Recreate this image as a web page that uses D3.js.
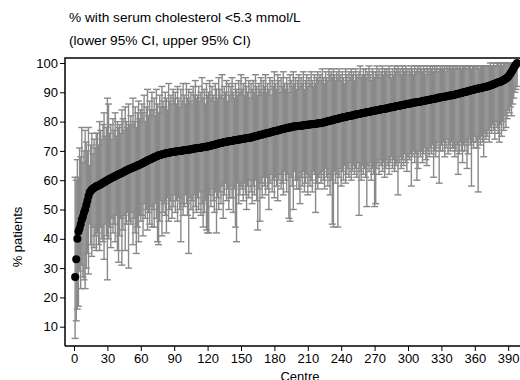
<!DOCTYPE html>
<html><head><meta charset="utf-8">
<script src="https://cdn.jsdelivr.net/npm/d3@7"></script>
<style>body{margin:0;background:#fff}svg{display:block;font-family:"Liberation Sans",Arial,sans-serif}</style>
</head><body><svg id="c" width="520" height="380"></svg>
<script>
// % with serum cholesterol <5.3 mmol/L, by centre (sorted)
const pct = [
27.0,33.0,40.0,42.5,43.5,45.0,46.5,47.5,49.0,50.0,
51.5,53.0,54.5,55.8,56.3,56.8,57.1,57.4,57.6,57.9,
58.0,58.2,58.4,58.6,58.8,59.1,59.3,59.5,59.8,60.0,
60.2,60.4,60.6,60.8,61.0,61.2,61.4,61.6,61.8,62.0,
62.1,62.3,62.5,62.7,62.9,63.1,63.3,63.5,63.7,63.8,
64.0,64.2,64.3,64.5,64.7,64.8,65.0,65.2,65.3,65.5,
65.7,65.9,66.1,66.3,66.5,66.7,66.9,67.1,67.2,67.4,
67.6,67.8,68.0,68.1,68.3,68.5,68.6,68.7,68.8,68.9,
69.0,69.1,69.2,69.3,69.4,69.4,69.5,69.6,69.6,69.7,
69.8,69.8,69.9,70.0,70.0,70.0,70.1,70.1,70.2,70.3,
70.3,70.4,70.4,70.5,70.6,70.6,70.7,70.8,70.8,70.9,
71.0,71.0,71.1,71.1,71.2,71.3,71.3,71.4,71.4,71.5,
71.6,71.7,71.8,71.9,72.0,72.1,72.2,72.3,72.4,72.5,
72.6,72.7,72.8,72.9,73.0,73.0,73.1,73.2,73.3,73.3,
73.4,73.5,73.5,73.6,73.7,73.7,73.8,73.9,73.9,74.0,
74.1,74.1,74.2,74.3,74.3,74.4,74.5,74.5,74.6,74.7,
74.8,74.9,75.0,75.1,75.2,75.3,75.4,75.5,75.6,75.7,
75.8,75.9,76.0,76.1,76.2,76.3,76.4,76.5,76.6,76.7,
76.8,76.9,77.0,77.1,77.2,77.3,77.4,77.5,77.6,77.7,
77.8,77.9,78.0,78.0,78.1,78.2,78.3,78.3,78.4,78.4,
78.5,78.5,78.6,78.6,78.7,78.7,78.8,78.8,78.9,78.9,
79.0,79.0,79.1,79.1,79.2,79.2,79.3,79.3,79.4,79.4,
79.4,79.5,79.6,79.7,79.8,79.9,80.0,80.1,80.2,80.3,
80.4,80.5,80.6,80.7,80.8,80.9,81.0,81.1,81.2,81.3,
81.4,81.5,81.5,81.6,81.7,81.8,81.9,82.0,82.0,82.1,
82.2,82.3,82.4,82.5,82.5,82.6,82.7,82.8,82.9,82.9,
83.0,83.1,83.2,83.3,83.3,83.4,83.5,83.6,83.7,83.7,
83.8,83.9,84.0,84.0,84.1,84.2,84.3,84.3,84.4,84.5,
84.5,84.6,84.7,84.8,84.9,84.9,85.0,85.1,85.2,85.3,
85.3,85.4,85.5,85.6,85.7,85.7,85.8,85.9,86.0,86.1,
86.1,86.2,86.3,86.4,86.4,86.5,86.6,86.6,86.7,86.7,
86.8,86.9,87.0,87.1,87.1,87.2,87.3,87.4,87.5,87.5,
87.6,87.7,87.8,87.8,87.9,88.0,88.1,88.2,88.2,88.3,
88.4,88.5,88.5,88.6,88.7,88.8,88.8,88.9,89.0,89.0,
89.1,89.2,89.3,89.4,89.5,89.6,89.7,89.8,89.9,90.0,
90.1,90.2,90.3,90.4,90.5,90.6,90.7,90.8,90.9,91.0,
91.1,91.2,91.3,91.4,91.4,91.5,91.6,91.7,91.8,91.9,
92.0,92.1,92.2,92.3,92.5,92.6,92.8,92.9,93.1,93.3,
93.4,93.5,93.6,93.8,94.0,94.2,94.4,94.7,95.0,95.3,
95.8,96.4,97.0,97.6,98.3,99.0,99.5,100.0
];
// lower 95% CI
const lower = [
6,12,16,17,29,23,31,27,26,23,
30,35,28,45,38,34,44,37,41,36,
42,38,36,44,40,39,33,45,41,26,
40,44,37,47,42,45,39,48,36,32,
41,47,31,43,48,36,45,49,30,46,
45,49,38,47,42,35,44,39,48,46,
48,41,52,47,50,43,49,45,51,44,
50,44,52,47,39,38,46,53,41,49,
52,48,42,54,46,50,53,47,51,55,
49,53,46,54,50,39,52,48,51,55,
52,48,35,54,50,53,47,55,51,49,
54,50,56,48,52,44,49,53,43,42,
42,55,51,57,53,49,56,42,54,50,
56,52,58,47,55,59,53,57,50,54,
58,54,49,57,44,39,59,52,55,58,
57,53,59,55,50,58,54,60,56,52,
58,55,60,53,43,57,46,59,54,61,
58,55,61,57,50,59,62,56,60,54,
61,58,53,60,62,57,59,55,63,60,
56,62,47,46,61,58,50,63,60,57,
60,57,52,61,58,63,56,59,62,55,
61,58,60,56,63,62,49,59,57,61,
62,59,63,60,57,64,61,58,62,55,
60,45,44,63,59,62,44,61,64,58,
63,60,65,59,62,64,61,66,60,63,
65,62,64,61,66,48,63,60,65,62,
64,61,51,65,63,66,60,64,62,51,
52,64,66,62,67,65,63,66,61,64,
67,65,62,66,68,64,67,63,65,66,
55,66,68,64,67,65,69,66,63,68,
67,69,58,68,70,66,69,60,64,70,
68,70,66,69,71,67,65,70,68,71,
69,72,61,70,68,71,73,59,70,72,
70,73,68,71,74,69,72,70,73,71,
71,68,70,72,62,69,73,70,66,72,
70,73,64,69,74,72,58,73,71,75,
73,71,56,74,72,75,73,68,76,74,
75,77,73,78,76,79,77,74,80,78,
76,73,79,75,80,77,82,78,81,84,
83,85,82,86,88,90,91,92
];
// upper 95% CI
const upper = [
61,60,67,61,71,68,78,66,70,77,
73,70,78,65,72,76,69,74,71,76,
76,72,80,77,74,79,83,75,78,88,
86,76,79,74,81,77,83,75,80,78,
79,76,84,81,77,85,80,78,86,79,
82,79,88,80,85,78,83,87,81,84,
86,83,89,80,85,91,82,87,84,90,
84,88,82,91,86,83,89,85,92,87,
85,90,88,84,93,87,89,86,91,88,
90,86,92,88,85,91,87,93,89,86,
93,88,91,87,90,86,92,89,94,88,
89,92,87,90,95,88,91,86,93,89,
90,94,88,92,89,87,93,91,88,95,
91,89,96,88,92,90,94,87,93,89,
92,95,90,88,93,91,89,94,90,96,
91,93,89,95,92,90,94,88,93,91,
94,90,96,92,89,93,91,95,90,94,
92,96,90,93,91,95,89,94,92,97,
93,91,96,94,90,95,92,97,93,91,
95,93,90,96,94,92,97,93,95,91,
94,96,92,95,93,97,91,94,96,92,
95,93,97,94,92,96,93,95,97,94,
96,94,98,95,93,97,95,94,98,96,
97,95,98,96,94,97,95,98,96,94,
97,95,93,98,96,94,97,95,98,96,
97,94,98,96,95,97,99,95,96,98,
96,98,95,97,99,96,94,98,97,95,
97,99,96,98,95,97,99,96,98,97,
98,96,99,97,95,98,96,99,97,98,
99,97,98,96,99,98,97,99,98,96,
98,97,99,98,96,99,97,98,99,97,
99,98,97,99,98,96,99,98,97,99,
98,99,97,99,98,99,97,98,99,98,
99,98,99,97,99,98,99,99,98,99,
99,98,99,99,98,99,99,98,99,99,
99,99,98,99,99,99,98,99,99,99,
99,99,99,98,99,99,99,99,99,99,
99,99,99,100,99,99,100,99,99,100,
100,99,100,100,99,100,100,100,100,100,
100,100,100,100,100,100,100,100
];
const xTicks = [0,30,60,90,120,150,180,210,240,270,300,330,360,390];
const yTicks = [10,20,30,40,50,60,70,80,90,100];
const titleLines = ["% with serum cholesterol <5.3 mmol/L", "(lower 95% CI, upper 95% CI)"];
const xLabel = "Centre";
const yLabel = "% patients";

const data = pct.map((p, i) => ({centre: i + 1, p, lo: lower[i], hi: upper[i]}));

const svg = d3.select("#c");
const x = d3.scaleLinear().domain([0, 390]).range([74, 508.2]);
const y = d3.scaleLinear().domain([0, 100]).range([356, 63]);
const padL = 65, padB = 346, padT = 58, padR = 520;

const grey = "#898989";
const bars = svg.append("g");
data.forEach(d => {
  const cx = x(d.centre);
  bars.append("line").attr("x1", cx).attr("x2", cx).attr("y1", y(d.lo)).attr("y2", y(d.hi))
    .attr("stroke", grey).attr("stroke-width", 1.4);
  bars.append("line").attr("x1", cx - 3.5).attr("x2", cx + 3.5).attr("y1", y(d.lo)).attr("y2", y(d.lo))
    .attr("stroke", grey).attr("stroke-width", 1.4);
  bars.append("line").attr("x1", cx - 3.5).attr("x2", cx + 3.5).attr("y1", y(d.hi)).attr("y2", y(d.hi))
    .attr("stroke", grey).attr("stroke-width", 1.4);
});

svg.append("g").selectAll("circle").data(data).join("circle")
  .attr("cx", d => x(d.centre)).attr("cy", d => y(d.p)).attr("r", 4).attr("fill", "#000");

// frame
svg.append("path").attr("d", `M${padL},${padB}V${padT}H${padR}M${padL},${padB}H${padR}`)
  .attr("fill", "none").attr("stroke", "#000").attr("stroke-width", 1.5);

const xa = svg.append("g").attr("transform", `translate(0,${padB})`)
  .call(d3.axisBottom(x).tickValues(xTicks).tickSize(5).tickPadding(3));
const ya = svg.append("g").attr("transform", `translate(${padL},0)`)
  .call(d3.axisLeft(y).tickValues(yTicks).tickSize(5).tickPadding(2));
[xa, ya].forEach(a => {
  a.select(".domain").remove();
  a.selectAll("text").attr("font-size", 13).attr("font-family", '"Liberation Sans",Arial,sans-serif').attr("fill", "#000");
  a.selectAll("line").attr("stroke", "#000");
});

svg.append("g").selectAll("text").data(titleLines).join("text")
  .attr("x", 69).attr("y", (d, i) => 22 + i * 23)
  .attr("font-size", 13.7).text(d => d);

svg.append("text").attr("x", 300).attr("y", 381).attr("text-anchor", "middle")
  .attr("font-size", 13).text(xLabel);
svg.append("text").attr("transform", "translate(22,237) rotate(-90)").attr("text-anchor", "middle")
  .attr("font-size", 13).text(yLabel);
</script></body></html>
